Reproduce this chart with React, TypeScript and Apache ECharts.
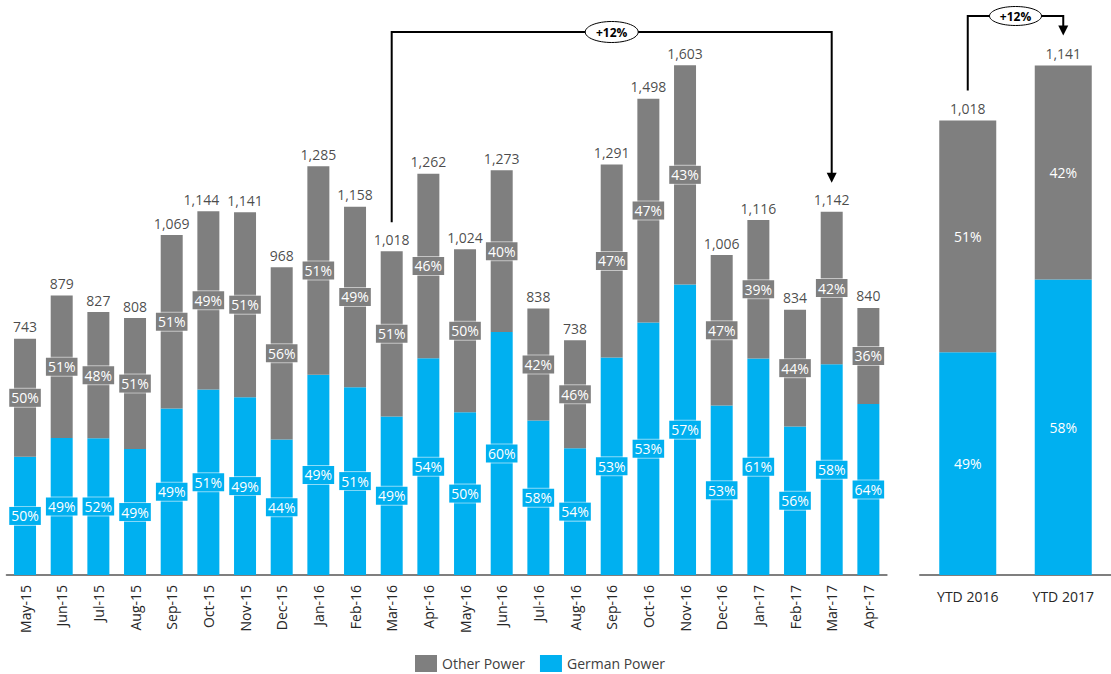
import React, { useEffect, useRef } from "react";
import * as echarts from "echarts";

// Monthly power volumes (totals) and split shares in percent
const months = [
  "May-15", "Jun-15", "Jul-15", "Aug-15", "Sep-15", "Oct-15", "Nov-15", "Dec-15",
  "Jan-16", "Feb-16", "Mar-16", "Apr-16", "May-16", "Jun-16", "Jul-16", "Aug-16",
  "Sep-16", "Oct-16", "Nov-16", "Dec-16", "Jan-17", "Feb-17", "Mar-17", "Apr-17",
];
const monthTotals = [
  743, 879, 827, 808, 1069, 1144, 1141, 968,
  1285, 1158, 1018, 1262, 1024, 1273, 838, 738,
  1291, 1498, 1603, 1006, 1116, 834, 1142, 840,
];
const monthGermanPct = [
  50, 49, 52, 49, 49, 51, 49, 44,
  49, 51, 49, 54, 50, 60, 58, 54,
  53, 53, 57, 53, 61, 56, 58, 64,
];
const monthOtherPct = [
  50, 51, 48, 51, 51, 49, 51, 56,
  51, 49, 51, 46, 50, 40, 42, 46,
  47, 47, 43, 47, 39, 44, 42, 36,
];

// Year-to-date comparison
const ytdCategories = ["YTD 2016", "YTD 2017"];
const ytdTotals = [1018, 1141];
const ytdGermanPct = [49, 58];
const ytdOtherPct = [51, 42];

const GRAY = "#7f7f7f";
const BLUE = "#00b0f0";
const FONT = "Open Sans";

const fmt = (v: number) => v.toLocaleString("en-US");
// German share sits at the bottom; the rest of the total is stacked on top
const germanVals = (totals: number[], germanPct: number[]) =>
  totals.map((t, i) => (t * germanPct[i]) / 100);
const otherVals = (totals: number[], germanPct: number[]) =>
  totals.map((t, i) => t - (t * germanPct[i]) / 100);

export default function App() {
  const ref = useRef<HTMLDivElement>(null);

  useEffect(() => {
    if (!ref.current) return;
    const chart = echarts.init(ref.current, undefined, { renderer: "svg" });

    const boxLabel = (color: string, pcts: number[]) => ({
      show: true,
      position: "inside",
      formatter: (p: any) => `${pcts[p.dataIndex]}%`,
      color: "#ffffff",
      fontSize: 14,
      fontFamily: FONT,
      backgroundColor: color,
      borderColor: "rgba(255,255,255,0.55)",
      borderWidth: 1,
      padding: [1, 2, 1, 2],
      lineHeight: 16,
    });
    const plainLabel = (pcts: number[]) => ({
      show: true,
      position: "inside",
      formatter: (p: any) => `${pcts[p.dataIndex]}%`,
      color: "#ffffff",
      fontSize: 14,
      fontFamily: FONT,
    });
    const totalLabel = {
      show: true,
      position: "top",
      distance: 5,
      formatter: (p: any) => fmt(p.value),
      color: "#1a1a1a",
      fontSize: 14,
      fontFamily: FONT,
    };

    // Oct-15's total is nudged left so it does not run into Nov-15's
    const monthTotalPoints = monthTotals.map((v, i) =>
      months[i] === "Oct-15" ? { value: v, label: { offset: [-7, 0] } } : v
    );

    chart.setOption({
      animation: false,
      textStyle: { fontFamily: FONT },
      legend: {
        left: 415,
        top: 655,
        padding: 0,
        itemWidth: 22,
        itemHeight: 17,
        itemGap: 15,
        icon: "rect",
        textStyle: { fontSize: 14, color: "#404040", fontFamily: FONT },
        data: [
          { name: "Other Power", itemStyle: { color: GRAY } },
          { name: "German Power", itemStyle: { color: BLUE } },
        ],
      },
      grid: [
        { left: 6.7, width: 880, bottom: 99, height: 1700 * 0.318 },
        { left: 920, width: 203, bottom: 99, height: 1250 * 0.4465 },
      ],
      xAxis: [
        {
          type: "category",
          gridIndex: 0,
          data: months,
          axisTick: { show: false },
          axisLine: { lineStyle: { color: GRAY, width: 2 } },
          axisLabel: {
            rotate: 90,
            interval: 0,
            margin: 10,
            fontSize: 14,
            color: "#262626",
            fontFamily: FONT,
          },
        },
        {
          type: "category",
          gridIndex: 1,
          data: ytdCategories,
          axisTick: { show: false },
          axisLine: { lineStyle: { color: GRAY, width: 2 } },
          axisLabel: {
            margin: 14,
            fontSize: 14,
            color: "#262626",
            fontFamily: FONT,
          },
        },
      ],
      yAxis: [
        { type: "value", gridIndex: 0, min: 0, max: 1700, show: false, splitLine: { show: false } },
        { type: "value", gridIndex: 1, min: 0, max: 1250, show: false, splitLine: { show: false } },
      ],
      series: [
        {
          name: "German Power",
          type: "bar",
          stack: "m",
          xAxisIndex: 0,
          yAxisIndex: 0,
          barWidth: 22,
          itemStyle: { color: BLUE },
          data: germanVals(monthTotals, monthGermanPct),
          label: boxLabel(BLUE, monthGermanPct),
        },
        {
          name: "Other Power",
          type: "bar",
          stack: "m",
          xAxisIndex: 0,
          yAxisIndex: 0,
          barWidth: 22,
          itemStyle: { color: GRAY },
          data: otherVals(monthTotals, monthGermanPct),
          label: boxLabel(GRAY, monthOtherPct),
        },
        {
          name: "monthTotal",
          type: "scatter",
          xAxisIndex: 0,
          yAxisIndex: 0,
          symbolSize: 0,
          silent: true,
          data: monthTotalPoints,
          label: totalLabel,
        },
        {
          name: "German Power",
          type: "bar",
          stack: "y",
          xAxisIndex: 1,
          yAxisIndex: 1,
          barWidth: 57,
          itemStyle: { color: BLUE },
          data: germanVals(ytdTotals, ytdGermanPct),
          label: plainLabel(ytdGermanPct),
        },
        {
          name: "Other Power",
          type: "bar",
          stack: "y",
          xAxisIndex: 1,
          yAxisIndex: 1,
          barWidth: 57,
          itemStyle: { color: GRAY },
          data: otherVals(ytdTotals, ytdGermanPct),
          label: plainLabel(ytdOtherPct),
        },
        {
          name: "ytdTotal",
          type: "scatter",
          xAxisIndex: 1,
          yAxisIndex: 1,
          symbolSize: 0,
          silent: true,
          data: ytdTotals,
          label: totalLabel,
        },
      ],
    });

    // Growth brackets: Mar-16 -> Mar-17 and YTD 2016 -> YTD 2017
    const bracket = (
      gridIndex: number,
      fromIdx: number,
      fromVal: number,
      toIdx: number,
      toVal: number,
      topY: number,
      gap: number,
      rx: number,
      ry: number
    ) => {
      const a = chart.convertToPixel({ gridIndex }, [fromIdx, fromVal]) as number[];
      const b = chart.convertToPixel({ gridIndex }, [toIdx, toVal]) as number[];
      const startY = a[1] - gap;
      const tipY = b[1] - gap;
      const headH = 10;
      const headW = 5;
      const midX = (a[0] + b[0]) / 2;
      const growth = Math.round((toVal / fromVal - 1) * 100);
      return [
        {
          type: "polyline",
          z: 10,
          shape: {
            points: [
              [a[0], startY],
              [a[0], topY],
              [b[0], topY],
              [b[0], tipY - headH + 1],
            ],
          },
          style: { stroke: "#000", lineWidth: 2, fill: "none" },
        },
        {
          type: "polygon",
          z: 10,
          shape: {
            points: [
              [b[0] - headW, tipY - headH],
              [b[0] + headW, tipY - headH],
              [b[0], tipY],
            ],
          },
          style: { fill: "#000" },
        },
        {
          type: "ellipse",
          z: 11,
          shape: { cx: midX, cy: topY, rx, ry },
          style: { fill: "#fff", stroke: "#000", lineWidth: 1 },
        },
        {
          type: "text",
          z: 12,
          x: midX,
          y: topY,
          style: {
            text: `${growth >= 0 ? "+" : ""}${growth}%`,
            align: "center",
            verticalAlign: "middle",
            fill: "#000",
            font: `bold 12px '${FONT}'`,
          },
        },
      ];
    };

    const marFrom = months.indexOf("Mar-16");
    const marTo = months.indexOf("Mar-17");
    chart.setOption({
      graphic: [
        ...bracket(0, marFrom, monthTotals[marFrom], marTo, monthTotals[marTo], 32, 29, 26.5, 10.5),
        ...bracket(1, 0, ytdTotals[0], 1, ytdTotals[1], 16, 30, 26, 9.5),
      ],
    });

    return () => chart.dispose();
  }, []);

  return (
    <div
      ref={ref}
      style={{ position: "fixed", left: 0, top: 0, width: 1111, height: 674, background: "#fff" }}
    />
  );
}
